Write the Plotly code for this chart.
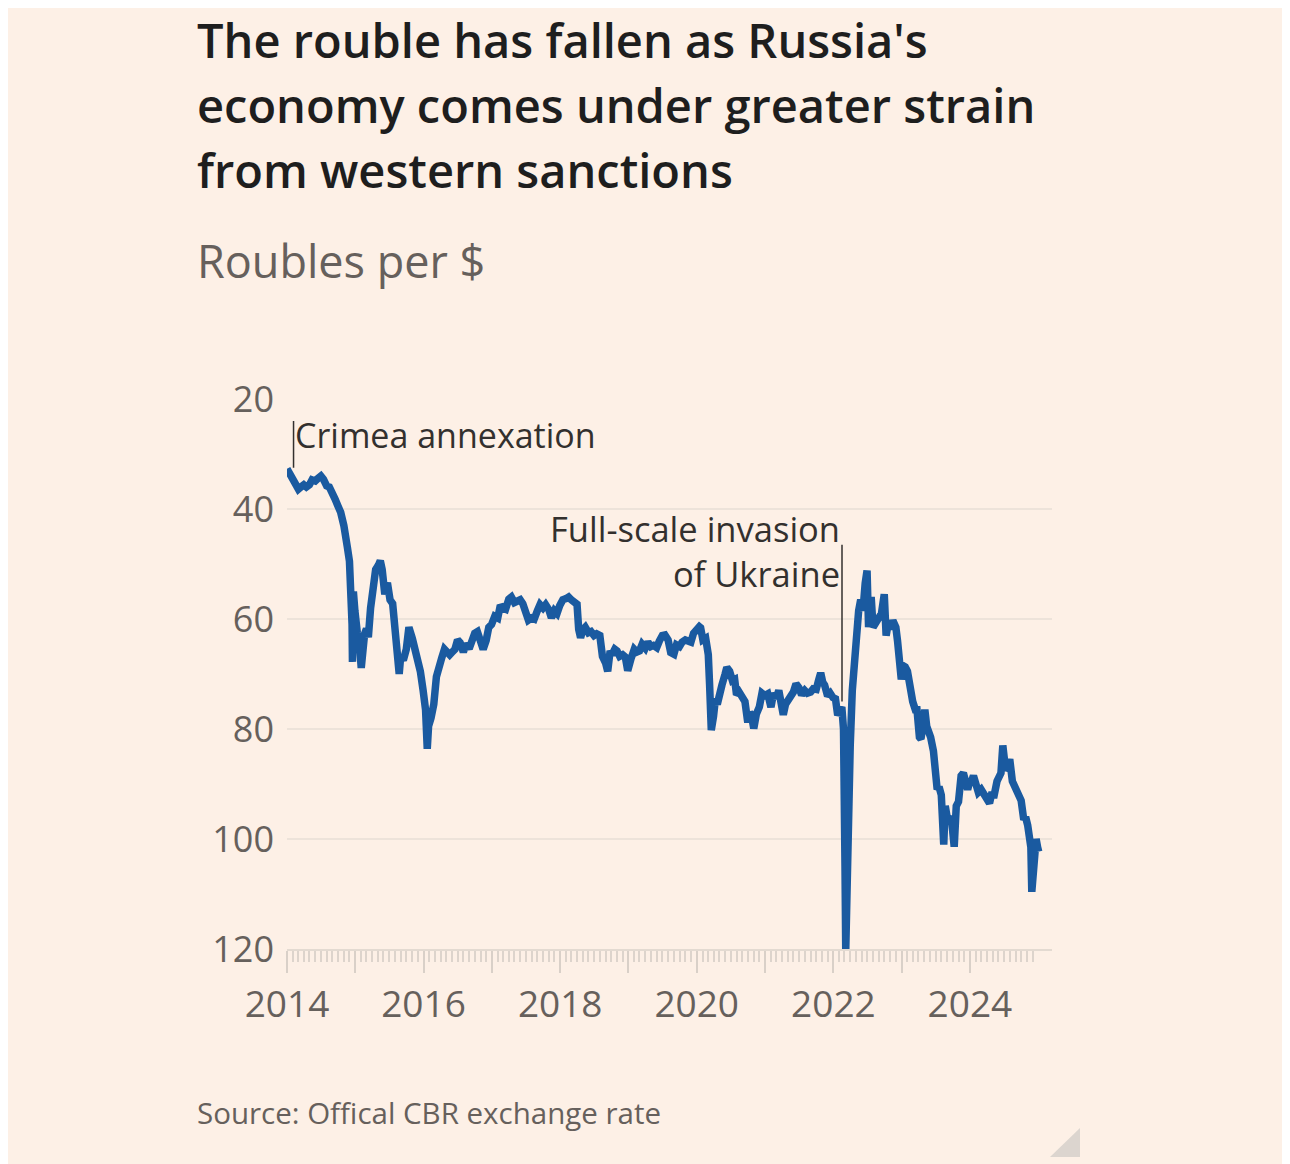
import plotly.graph_objects as go

# Official CBR rate, roubles per US dollar
dates = [
    "2014-01-01", "2014-01-20", "2014-02-05", "2014-02-20", "2014-03-03", "2014-03-17",
    "2014-04-01", "2014-04-15", "2014-05-01", "2014-05-15", "2014-06-01", "2014-06-16",
    "2014-07-01", "2014-07-15", "2014-08-01", "2014-08-15", "2014-09-01", "2014-09-15",
    "2014-10-01", "2014-10-15", "2014-11-01", "2014-11-10", "2014-11-20", "2014-12-01",
    "2014-12-08", "2014-12-15", "2014-12-17", "2014-12-22", "2014-12-30",
    "2015-01-12", "2015-01-22", "2015-02-02", "2015-02-10", "2015-02-20", "2015-03-02",
    "2015-03-12", "2015-03-24", "2015-04-06", "2015-04-20", "2015-05-05", "2015-05-15",
    "2015-05-25", "2015-06-08", "2015-06-22", "2015-07-06", "2015-07-20", "2015-08-03",
    "2015-08-14", "2015-08-24", "2015-09-01", "2015-09-15", "2015-10-01", "2015-10-15",
    "2015-11-02", "2015-11-16", "2015-12-01", "2015-12-15", "2015-12-30",
    "2016-01-12", "2016-01-21", "2016-01-28", "2016-02-10", "2016-02-25", "2016-03-10",
    "2016-03-25", "2016-04-08", "2016-04-22", "2016-05-06", "2016-05-20", "2016-06-03",
    "2016-06-17", "2016-07-01", "2016-07-15", "2016-08-01", "2016-08-15", "2016-09-01",
    "2016-09-15", "2016-10-01", "2016-10-15", "2016-11-01", "2016-11-15", "2016-12-01",
    "2016-12-15", "2016-12-30",
    "2017-01-16", "2017-02-01", "2017-02-15", "2017-03-01", "2017-03-15", "2017-04-01",
    "2017-04-15", "2017-05-01", "2017-05-15", "2017-06-01", "2017-06-15", "2017-07-01",
    "2017-07-15", "2017-08-01", "2017-08-15", "2017-09-01", "2017-09-15", "2017-10-01",
    "2017-10-15", "2017-11-01", "2017-11-15", "2017-12-01", "2017-12-15", "2017-12-29",
    "2018-01-15", "2018-02-01", "2018-02-15", "2018-03-01", "2018-03-15", "2018-04-01",
    "2018-04-10", "2018-04-20", "2018-05-01", "2018-05-15", "2018-06-01", "2018-06-15",
    "2018-07-01", "2018-07-15", "2018-08-01", "2018-08-15", "2018-09-01", "2018-09-12",
    "2018-09-25", "2018-10-05", "2018-10-20", "2018-11-01", "2018-11-15", "2018-12-01",
    "2018-12-15", "2018-12-28",
    "2019-01-15", "2019-02-01", "2019-02-15", "2019-03-01", "2019-03-15", "2019-04-01",
    "2019-04-15", "2019-05-01", "2019-05-15", "2019-06-01", "2019-06-15", "2019-07-01",
    "2019-07-15", "2019-08-01", "2019-08-15", "2019-09-01", "2019-09-15", "2019-10-01",
    "2019-10-15", "2019-11-01", "2019-11-15", "2019-12-01", "2019-12-15", "2019-12-30",
    "2020-01-15", "2020-01-22", "2020-02-03", "2020-02-18", "2020-03-03", "2020-03-10",
    "2020-03-19", "2020-03-31", "2020-04-10", "2020-04-20", "2020-05-01", "2020-05-15",
    "2020-06-01", "2020-06-10", "2020-06-25", "2020-07-10", "2020-07-22", "2020-08-01",
    "2020-08-15", "2020-09-01", "2020-09-15", "2020-09-30", "2020-10-10", "2020-10-20",
    "2020-11-01", "2020-11-15", "2020-12-01", "2020-12-15", "2020-12-30",
    "2021-01-15", "2021-02-01", "2021-02-15", "2021-03-01", "2021-03-15", "2021-04-01",
    "2021-04-08", "2021-04-20", "2021-05-01", "2021-05-15", "2021-06-01", "2021-06-15",
    "2021-07-01", "2021-07-15", "2021-08-01", "2021-08-15", "2021-09-01", "2021-09-15",
    "2021-10-01", "2021-10-15", "2021-10-25", "2021-11-05", "2021-11-15", "2021-12-01",
    "2021-12-15", "2021-12-30",
    "2022-01-12", "2022-01-24", "2022-02-03", "2022-02-15", "2022-02-24", "2022-02-28",
    "2022-03-04", "2022-03-08", "2022-03-14", "2022-03-22", "2022-04-01", "2022-04-12",
    "2022-04-22", "2022-05-04", "2022-05-16", "2022-05-27", "2022-06-08", "2022-06-20",
    "2022-06-30", "2022-07-08", "2022-07-15", "2022-07-22", "2022-08-01", "2022-08-15",
    "2022-09-01", "2022-09-15", "2022-09-30", "2022-10-10", "2022-10-20", "2022-11-01",
    "2022-11-15", "2022-12-01", "2022-12-10", "2022-12-20", "2022-12-30",
    "2023-01-10", "2023-01-20", "2023-02-01", "2023-02-15", "2023-03-01", "2023-03-15",
    "2023-03-24", "2023-04-06", "2023-04-14", "2023-04-25", "2023-05-05", "2023-05-15",
    "2023-05-25", "2023-06-05", "2023-06-20", "2023-06-30", "2023-07-10", "2023-07-20",
    "2023-08-01", "2023-08-14", "2023-08-22", "2023-09-01", "2023-09-15", "2023-09-25",
    "2023-10-09", "2023-10-20", "2023-11-01", "2023-11-15", "2023-11-27", "2023-12-10",
    "2023-12-20", "2023-12-30",
    "2024-01-10", "2024-01-20", "2024-02-01", "2024-02-15", "2024-03-01", "2024-03-15",
    "2024-04-01", "2024-04-15", "2024-04-25", "2024-05-10", "2024-05-25", "2024-06-05",
    "2024-06-15", "2024-06-25", "2024-07-01", "2024-07-10", "2024-07-20", "2024-08-01",
    "2024-08-15", "2024-09-01", "2024-09-15", "2024-10-01", "2024-10-15", "2024-10-25",
    "2024-11-05", "2024-11-15", "2024-11-22", "2024-11-27", "2024-12-01", "2024-12-10",
    "2024-12-20", "2024-12-28", "2025-01-03",
]
roubles_per_usd = [
    32.7, 33.8, 34.6, 35.5, 36.4, 36.0,
    35.6, 36.0, 35.6, 34.7, 34.9, 34.4,
    34.0, 34.6, 35.8, 36.0, 37.0, 38.2,
    39.5, 40.6, 43.0, 46.5, 47.0, 49.5,
    53.5, 61.0, 67.8, 55.0, 58.5,
    62.5, 64.0, 68.9, 65.5, 62.7, 61.8,
    63.3, 58.0, 53.0, 51.0, 50.2, 49.4,
    51.0, 55.5, 53.4, 56.5, 57.2, 61.5,
    65.3, 70.0, 66.8, 67.5, 65.5, 61.5,
    63.5, 65.5, 66.5, 69.5, 73.0,
    76.5, 83.6, 79.5, 78.0, 75.5, 70.5,
    68.2, 67.0, 65.5, 66.0, 66.5, 66.0,
    65.5, 63.8, 64.3, 66.0, 64.5, 65.4,
    64.0, 62.6, 62.3, 63.8, 65.5, 63.9,
    61.5, 61.0,
    59.5, 59.8, 57.5, 58.0, 58.2, 56.4,
    56.0, 57.0, 56.8, 56.5, 57.2, 59.3,
    60.2, 59.8, 60.0, 58.5, 57.4, 58.0,
    57.4, 58.3, 59.8, 58.5, 59.0, 57.6,
    56.5, 56.3, 56.0, 56.5, 57.0, 57.3,
    61.9, 63.4, 62.0, 61.5, 62.5, 62.3,
    63.0, 62.7, 63.0, 66.8, 68.0, 69.5,
    65.8, 66.5, 65.5, 65.8, 66.8, 66.5,
    66.9, 69.4,
    67.2, 65.5, 66.0, 65.8, 64.6, 65.3,
    64.2, 65.0, 64.8, 65.2, 64.0, 63.0,
    62.9, 63.8, 66.1, 66.4, 64.7, 65.0,
    64.2, 63.8, 64.0, 64.2, 62.6, 61.9,
    61.4, 61.6, 63.8, 63.5, 66.5, 72.0,
    80.2, 77.7, 74.5, 75.5, 73.0, 72.0,
    70.0, 68.8, 69.5, 71.2, 71.0, 73.8,
    73.3, 74.5, 75.0, 78.8, 77.0, 77.5,
    79.9, 77.3, 76.0, 73.5, 73.9,
    73.6, 76.0, 73.5, 74.4, 73.0, 75.8,
    77.4, 75.5, 75.0, 73.8, 73.3, 71.8,
    72.5, 73.8, 73.0, 73.5, 73.3, 72.7,
    72.8, 71.0, 69.8, 71.5, 72.0, 74.0,
    73.5, 74.3,
    74.5, 77.5, 76.5, 76.0, 80.0, 87.0,
    105.0, 120.4, 107.5, 95.0, 83.0, 73.0,
    68.0, 63.0, 58.5, 56.5, 58.5, 53.5,
    51.2, 61.5, 58.0, 56.0, 61.5, 60.5,
    60.0, 59.0, 55.5, 63.0, 61.0, 61.8,
    60.3, 61.5, 64.0, 68.5, 71.0,
    68.5, 68.7, 69.5, 73.5, 75.0, 76.5,
    76.5, 81.5, 81.8, 79.5, 76.5, 79.5,
    80.3, 81.5, 84.0, 87.0, 91.0, 90.5,
    92.0, 101.0, 94.0, 96.0, 96.5, 96.5,
    101.4, 94.0, 93.2, 88.5, 88.0, 91.0,
    91.0, 89.7,
    89.5, 88.5, 89.5, 91.5, 91.0, 91.8,
    92.6, 93.5, 92.0, 92.0, 89.5, 89.0,
    88.0, 83.0, 85.5, 87.5, 87.0, 85.5,
    89.5, 91.0, 91.5, 93.0, 96.5, 96.0,
    97.5, 99.5, 101.5, 109.6, 108.0, 103.0,
    100.0, 101.5, 102.3,
]

y_ticks = [20, 40, 60, 80, 100, 120]
year_ticks = [f"{y}-01-01" for y in range(2014, 2025)]
year_labels = [str(y) if y % 2 == 0 else "" for y in range(2014, 2025)]
month_ticks = [f"{y}-{m:02d}-01" for y in range(2014, 2025) for m in range(2, 13)]

title_lines = [
    "The rouble has fallen as Russia's",
    "economy comes under greater strain",
    "from western sanctions",
]

BG = "#FDF0E6"
INK = "#33302E"
GREY = "#66605C"
FONT = "Open Sans"

fig = go.Figure()
fig.add_trace(
    go.Scatter(
        x=dates,
        y=roubles_per_usd,
        mode="lines",
        line=dict(color="#1A5AA0", width=7.5),
        hoverinfo="x+y",
        showlegend=False,
    )
)

# annotation leader lines
fig.add_shape(type="line", x0="2014-02-05", x1="2014-02-05", y0=24.0, y1=32.5,
              line=dict(color=INK, width=1.5))
fig.add_shape(type="line", x0="2022-02-16", x1="2022-02-16", y0=46.5, y1=75.0,
              line=dict(color=INK, width=1.5))

fig.add_annotation(x="2014-02-03", y=26.6, text="Crimea annexation", showarrow=False,
                   xanchor="left", yanchor="middle",
                   font=dict(family=FONT, size=34, color=INK))
fig.add_annotation(x="2022-02-18", y=47.7, text="Full-scale invasion<br>of Ukraine",
                   showarrow=False, xanchor="right", yanchor="middle", align="right",
                   font=dict(family=FONT, size=34.5, color=INK))

# headline, one annotation per line so the spacing matches
for i, line in enumerate(title_lines):
    fig.add_annotation(xref="paper", yref="paper", x=-0.1203, y=1.6527 - i * 0.1182,
                       text=line, showarrow=False, xanchor="left", yanchor="middle",
                       font=dict(family=FONT, size=47, color="#1E1E1E", weight=600))
fig.add_annotation(xref="paper", yref="paper", x=-0.1203, y=1.252,
                   text="Roubles per $", showarrow=False, xanchor="left", yanchor="middle",
                   font=dict(family=FONT, size=45, color=GREY))
fig.add_annotation(xref="paper", yref="paper", x=-0.1203, y=-0.297,
                   text="Source: Offical CBR exchange rate", showarrow=False,
                   xanchor="left", yanchor="middle",
                   font=dict(family=FONT, size=29.5, color=GREY))

# little grey corner mark
fig.add_shape(type="path", xref="paper", yref="paper",
              path="M 0.9974 -0.378 L 1.0366 -0.3255 L 1.0366 -0.378 Z",
              fillcolor="#DCD5CF", line=dict(width=0))

fig.update_layout(
    width=1282,
    height=1156,
    paper_bgcolor=BG,
    plot_bgcolor=BG,
    margin=dict(l=279, r=238, t=391, b=215),
    font=dict(family=FONT, color=GREY),
    xaxis=dict(
        type="date",
        range=["2014-01-01", "2025-03-15"],
        tickvals=year_ticks,
        ticktext=year_labels,
        ticks="outside",
        ticklen=22,
        tickwidth=1.5,
        tickcolor="#D9D0C8",
        tickfont=dict(family=FONT, size=37, color=GREY),
        ticklabelstandoff=0,
        showgrid=False,
        showline=True,
        linecolor="#E3DAD1",
        linewidth=1.5,
        zeroline=False,
        minor=dict(tickvals=month_ticks, ticks="outside", ticklen=11, tickwidth=1.5,
                   tickcolor="#DDD4CC", showgrid=False),
    ),
    yaxis=dict(
        range=[120, 20],
        tickvals=y_ticks,
        ticks="",
        tickfont=dict(family=FONT, size=36, color=GREY),
        ticklabelstandoff=12,
        showgrid=True,
        gridcolor="#EDE3DA",
        gridwidth=1.5,
        zeroline=False,
        showline=False,
    ),
)

fig.write_html("out.html")
